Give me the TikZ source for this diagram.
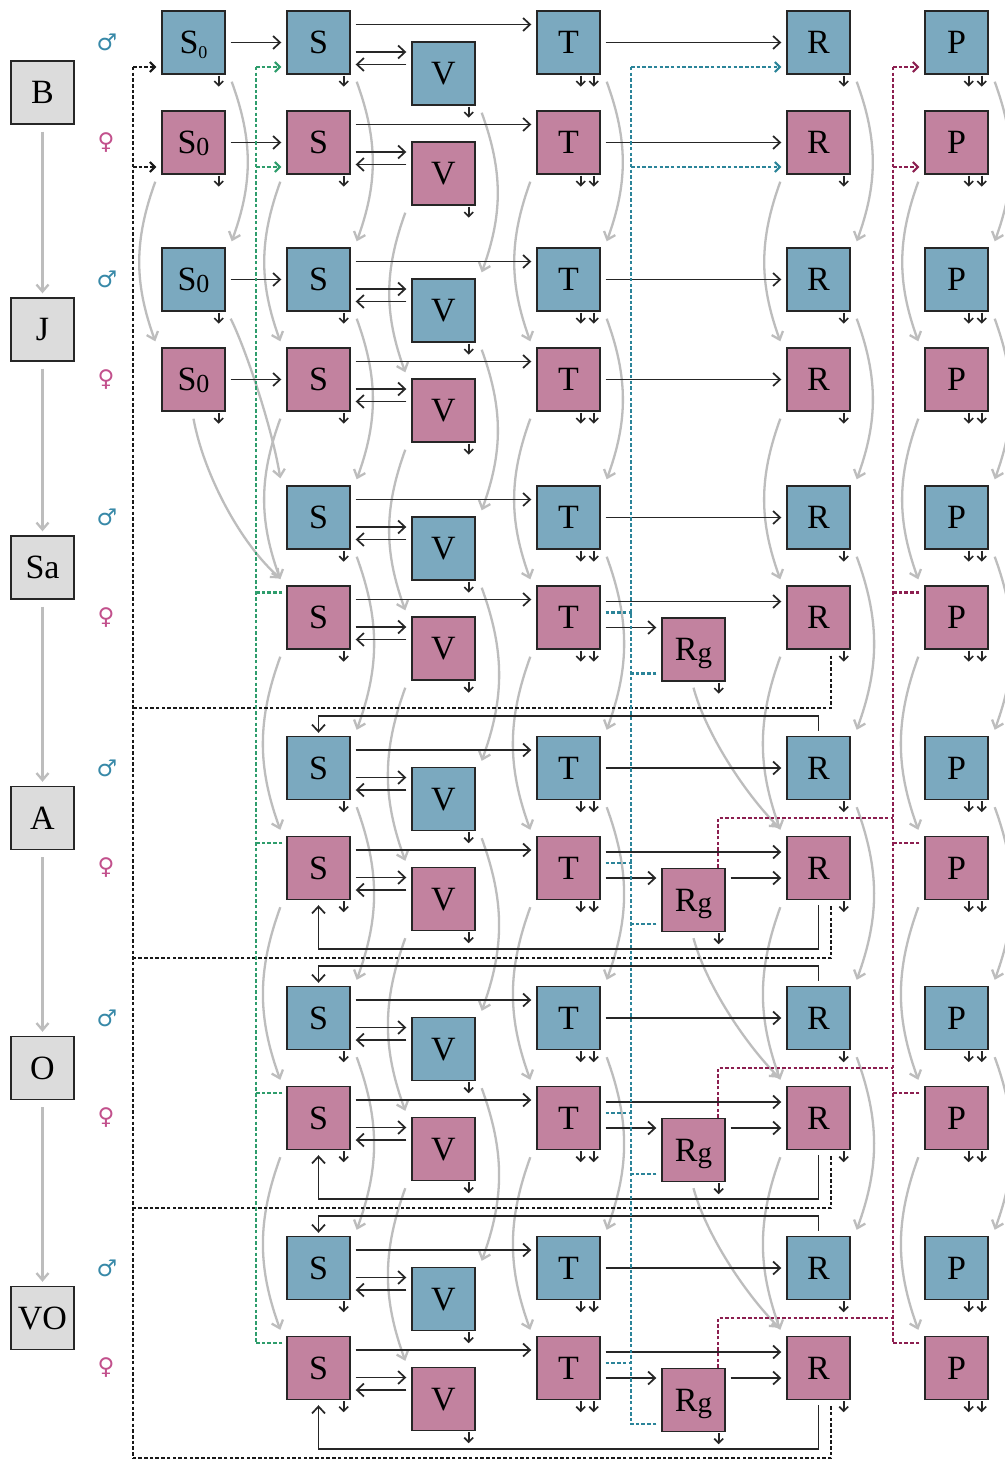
\documentclass[tikz,border=0pt]{standalone}
\usepackage{fontspec}
\setmainfont{Liberation Serif}
\newfontfamily\symfont{DejaVu Sans}
\usetikzlibrary{arrows.meta,calc}
\pgfdeclarelayer{background}
\pgfsetlayers{background,main}
\definecolor{mblue}{HTML}{7BA9BF}
\definecolor{fpink}{HTML}{C2829F}
\definecolor{lgray}{HTML}{DCDCDC}
\definecolor{curvegray}{HTML}{BDBDBD}
\definecolor{teald}{HTML}{2B8499}
\definecolor{greend}{HTML}{2E9D6C}
\definecolor{maroond}{HTML}{8C1F50}
\definecolor{msym}{HTML}{3889A8}
\definecolor{fsym}{HTML}{C2508C}
\begin{document}
\begin{tikzpicture}[x=1pt,y=-1pt,
  cbox/.style={draw=black!85,line width=1.4pt,minimum width=63pt,minimum height=63pt,inner sep=0pt,text depth=0pt,font=\fontsize{34}{34}\selectfont},
  mb/.style={cbox,fill=mblue},
  fb/.style={cbox,fill=fpink},
  lb/.style={cbox,fill=lgray},
  flow/.style={draw=black!85,line width=1.7pt,-{Straight Barb[length=7pt,width=13pt,line width=1.7pt]}},
  tick/.style={draw=black!85,line width=1.6pt,-{Straight Barb[length=4.5pt,width=9pt,line width=1.6pt]}},
  gcurve/.style={draw=curvegray,line width=2.3pt,-{Straight Barb[length=7pt,width=12pt,line width=2.3pt]}},
  dotline/.style={line width=2.5pt,dash pattern=on 3.5pt off 2.2pt},
  bkd/.style={dotline,draw=black!90},
  gnd/.style={dotline,draw=greend},
  tld/.style={dotline,draw=teald},
  mrd/.style={dotline,draw=maroond},
  darr/.style={-{Straight Barb[length=5pt,width=10pt,line width=2pt]},shorten >=5pt},
  symm/.style={font=\symfont\fontsize{23}{23}\selectfont,text=msym},
  symf/.style={font=\symfont\fontsize{23}{23}\selectfont,text=fsym},
]
\useasboundingbox (0,0) rectangle (1004,1461);

% ---------- boxes ----------
\foreach \k/\ym in {1/42.5,2/279.5,3/517.5,4/768,5/1018,6/1268}{
  \pgfmathsetmacro\yf{\ym+100}
  \node[mb] (Sm\k) at (318.5,\ym) {S};
  \node[mb] (Vm\k) at (443.5,\ym+31) {V};
  \node[mb] (Tm\k) at (568.5,\ym) {T};
  \node[mb] (Rm\k) at (818.5,\ym) {R};
  \node[mb] (Pm\k) at (956.5,\ym) {P};
  \node[fb] (Sf\k) at (318.5,\yf) {S};
  \node[fb] (Vf\k) at (443.5,\yf+31) {V};
  \node[fb] (Tf\k) at (568.5,\yf) {T};
  \node[fb] (Rf\k) at (818.5,\yf) {R};
  \node[fb] (Pf\k) at (956.5,\yf) {P};
  \node[symm] (xm\k) at (107,\ym) {♂};
  \node[symf] (xf\k) at (106,\yf) {♀};
}
\foreach \k/\yf in {3/617.5,4/868,5/1118,6/1368}
  \node[fb] (Rgf\k) at (693.5,\yf+32) {R\raisebox{-0.05em}{\fontsize{29}{29}\selectfont g}};
\node[mb] (S0m1) at (193.5,42.5) {S\raisebox{-0.14em}{\fontsize{18}{18}\selectfont 0}};
\node[fb] (S0f1) at (193.5,142.5) {S\raisebox{-0.06em}{\fontsize{26}{26}\selectfont 0}};
\node[mb] (S0m2) at (193.5,279.5) {S\raisebox{-0.06em}{\fontsize{26}{26}\selectfont 0}};
\node[fb] (S0f2) at (193.5,379.5) {S\raisebox{-0.06em}{\fontsize{26}{26}\selectfont 0}};

% ---------- stage labels ----------
\foreach \k/\lab/\y in {1/B/92.5,2/J/329.5,3/Sa/567.5,4/A/818,5/O/1068,6/VO/1318}
  \node[lb] (L\k) at (42.5,\y) {\lab};

% ---------- small outflow ticks ----------
\foreach \n in {S0m1,S0f1,S0m2,S0f2,Rgf3,Rgf4,Rgf5,Rgf6}
  \draw[tick] ($(\n.south east)+(-7,1)$) -- ++(0,11);
\foreach \k in {1,...,6}{
  \foreach \s in {m,f}{
    \foreach \col in {S,V,R}
      \draw[tick] ($(\col\s\k.south east)+(-7,1)$) -- ++(0,11);
    \foreach \col in {T,P}{
      \draw[tick] ($(\col\s\k.south east)+(-7,1)$) -- ++(0,11);
      \draw[tick] ($(\col\s\k.south east)+(-20,1)$) -- ++(0,11);
    }
  }
}

% ---------- horizontal flows ----------
\foreach \k in {1,...,6}{
  \foreach \s in {m,f}{
    \draw[flow] ($(S\s\k.east)+(5,-18)$) -- ($(T\s\k.west)+(-5,-18)$);
    \draw[flow] ($(S\s\k.east)+(5,9.5)$) -- ($(V\s\k.west)+(-5,-21.5)$);
    \draw[flow] ($(V\s\k.west)+(-5,-9)$) -- ($(S\s\k.east)+(5,22)$);
  }
  \draw[flow] ($(Tm\k.east)+(5,0)$) -- ($(Rm\k.west)+(-5,0)$);
}
\foreach \k in {1,2}{
  \draw[flow] ($(Tf\k.east)+(5,0)$) -- ($(Rf\k.west)+(-5,0)$);
  \draw[flow] ($(S0m\k.east)+(5,0)$) -- ($(Sm\k.west)+(-5,0)$);
  \draw[flow] ($(S0f\k.east)+(5,0)$) -- ($(Sf\k.west)+(-5,0)$);
}
\foreach \k in {3,...,6}{
  \draw[flow] ($(Tf\k.east)+(5,-16)$) -- ($(Rf\k.west)+(-5,-16)$);
  \draw[flow] ($(Tf\k.east)+(5,10)$) -- ($(Rgf\k.west)+(-5,-22)$);
}
\foreach \k in {4,5,6}{
  \draw[flow] ($(Rgf\k.east)+(5,-22)$) -- ($(Rf\k.west)+(-5,10)$);
  \draw[flow] ($(Rm\k.north)+(0,-5)$) |- ($(Sm\k.north)+(0,-19.5)$) -- ($(Sm\k.north)+(0,-3)$);
  \draw[flow] ($(Rf\k.south)+(0,5)$) |- ($(Sf\k.south)+(0,48.5)$) -- ($(Sf\k.south)+(0,5)$);
}

% ---------- dotted buses ----------
\coordinate (bk0) at (133,67);
\coordinate (bk1) at (133,167);
\coordinate (bk6) at (133,1458);
\draw[bkd] (bk0) -- (bk6);
\draw[bkd,darr] (bk0) -- (bk0 -| S0m1.west);
\draw[bkd,darr] (bk1) -- (bk1 -| S0f1.west);
\foreach \k/\y in {3/708,4/958,5/1208,6/1458}{
  \coordinate (bkL\k) at (133,\y);
  \draw[bkd] ($(Rf\k.south)+(12.5,6)$) |- (bkL\k);
}

\coordinate (gn0) at (256,67);
\coordinate (gn1) at (256,167);
\coordinate (gn6) at (256,1343);
\draw[gnd] (gn0) -- (gn6);
\draw[gnd,darr] (gn0) -- (gn0 -| Sm1.west);
\draw[gnd,darr] (gn1) -- (gn1 -| Sf1.west);
\foreach \k in {3,...,6}
  \draw[gnd] ($(Sf\k.west)+(-4,-25)$) -- ++(-27,0);

\coordinate (tl0) at (631,67);
\coordinate (tl1) at (631,167);
\coordinate (tl6) at (631,1424);
\draw[tld] (tl0) -- (tl6);
\draw[tld,darr] (tl0) -- (tl0 -| Rm1.west);
\draw[tld,darr] (tl1) -- (tl1 -| Rf1.west);
\foreach \k in {3,...,6}{
  \draw[tld] ($(Tf\k.east)+(5,-5)$) -- ++(26,0);
  \draw[tld] ($(Rgf\k.west)+(-5,24)$) -- ++(-26,0);
}

\coordinate (mr0) at (893,67);
\coordinate (mr1) at (893,167);
\coordinate (mr6) at (893,1343);
\draw[mrd] (mr0) -- (mr6);
\draw[mrd,darr] (mr0) -- (mr0 -| Pm1.west);
\draw[mrd,darr] (mr1) -- (mr1 -| Pf1.west);
\foreach \k in {3,...,6}
  \draw[mrd] ($(Pf\k.west)+(-5,-25)$) -- ++(-27,0);
\foreach \k/\y in {4/818,5/1068,6/1318}{
  \coordinate (mrK\k) at (893,\y);
  \draw[mrd] ($(Rgf\k.north)+(24.5,0)$) |- (mrK\k);
}

% ---------- gray transitions ----------
\begin{pgfonlayer}{background}
\fill[white] (0,0) rectangle (1004,1461);
\foreach \k in {1,...,5}{
  \pgfmathtruncatemacro\kk{\k+1}
  \draw[gcurve] ($(L\k.south)+(0,7)$) -- ($(L\kk.north)+(0,-4)$);
  \foreach \col in {S,V,T,R,P}{
    \draw[gcurve] ($(\col m\k.south east)+(6,7)$) to[bend left=20] ($(\col m\kk.north east)+(6,-6)$);
    \draw[gcurve] ($(\col f\k.south west)+(-6,7)$) to[bend right=20] ($(\col f\kk.north west)+(-6,-6)$);
  }
}
\draw[gcurve] ($(S0m1.south east)+(6,7)$) to[bend left=20] ($(S0m2.north east)+(6,-6)$);
\draw[gcurve] ($(S0f1.south west)+(-6,7)$) to[bend right=20] ($(S0f2.north west)+(-6,-6)$);
\draw[gcurve] ($(S0m2.south east)+(5,7)$) .. controls +(15,30) and +(-8,-50) .. ($(Sm3.north west)+(-6,-7)$);
\draw[gcurve] ($(S0f2.south)+(0,7)$) .. controls +(10,55) and +(-40,-35) .. ($(Sf3.north west)+(-6,-7)$);
\foreach \k in {3,4,5}{
  \pgfmathtruncatemacro\kk{\k+1}
  \draw[gcurve] ($(Rgf\k.south)+(0,6)$) .. controls +(12,45) and +(-35,-35) .. ($(Rf\kk.north west)+(-7,-8)$);
}
\end{pgfonlayer}
\end{tikzpicture}
\end{document}
